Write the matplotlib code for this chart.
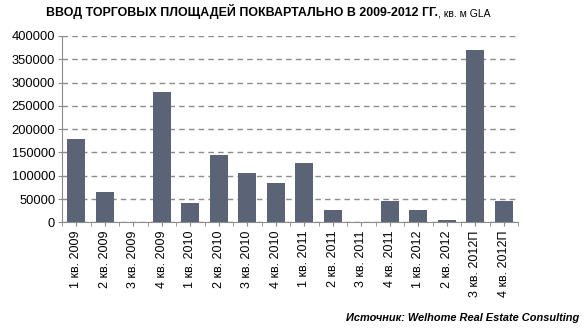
import numpy as np
import matplotlib
matplotlib.use('Agg')
import matplotlib.pyplot as plt

plt.rcParams['font.family'] = ['Liberation Sans', 'DejaVu Sans']

quarters = ['1 кв. 2009', '2 кв. 2009', '3 кв. 2009', '4 кв. 2009',
            '1 кв. 2010', '2 кв. 2010', '3 кв. 2010', '4 кв. 2010',
            '1 кв. 2011', '2 кв. 2011', '3 кв. 2011', '4 кв. 2011',
            '1 кв. 2012', '2 кв. 2012', '3 кв. 2012П', '4 кв. 2012П']
area = [179000, 65000, 0, 280000,
        41000, 145000, 105000, 85000,
        128000, 27000, 0, 45000,
        26000, 5000, 370000, 45000]
yticks = np.arange(0, 400001, 50000)

fig = plt.figure(figsize=(5.86, 3.32), dpi=100)
ax = fig.add_axes([0.106, 0.330, 0.778, 0.562])

x = np.arange(len(quarters))
ax.bar(x, area, width=0.64, color='#5b6377', zorder=3)

ax.set_xlim(-0.5, len(quarters) - 0.5)
ax.set_ylim(0, 400000)
ax.set_yticks(yticks)
ax.set_yticklabels([str(v) for v in yticks], fontsize=9.3)
ax.set_xticks(x)
ax.set_xticklabels(quarters, rotation=90, fontsize=9)
ax.set_xticks(np.arange(-0.5, len(quarters)), minor=True)

ax.grid(axis='y', color='#8c8c8c', linestyle=(0, (4, 3)), linewidth=1, zorder=0)
for s in ['top', 'right']:
    ax.spines[s].set_visible(False)
for s in ['left', 'bottom']:
    ax.spines[s].set_color('#8c8c8c')
ax.tick_params(axis='both', which='both', color='#8c8c8c', length=3, pad=2)
ax.tick_params(axis='x', which='major', pad=3)

# заголовок: жирная часть + единицы измерения обычным шрифтом
t1 = fig.text(46 / 586, 1 - 11.5 / 332, 'ВВОД ТОРГОВЫХ ПЛОЩАДЕЙ ПОКВАРТАЛЬНО В 2009-2012 ГГ.',
              fontsize=8.9, fontweight='bold', va='center', ha='left')
ax.annotate(', кв. м GLA', xy=(1, 0.03), xycoords=t1, va='bottom', ha='left', fontsize=7.5)

fig.text(579 / 586, 1 - 318 / 332, 'Источник: Welhome Real Estate Consulting',
         fontsize=7.9, fontweight='bold', style='italic', ha='right', va='center')

fig.savefig('out.png', dpi=100)
